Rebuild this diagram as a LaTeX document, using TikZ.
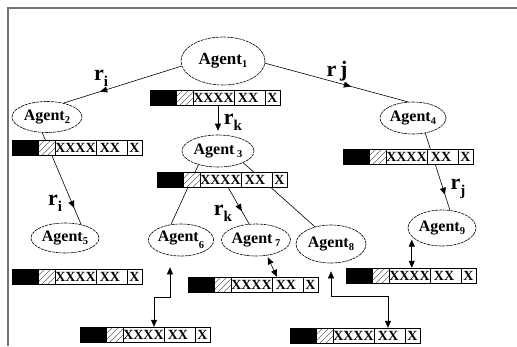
\documentclass[tikz,border=0pt]{standalone}
\usepackage{fontspec}
\setmainfont{Liberation Serif}
\usetikzlibrary{shapes.geometric,decorations.markings,arrows.meta,calc}
\pgfdeclarelayer{bg}
\pgfdeclarelayer{paper}
\pgfsetlayers{paper,bg,main}
\newcommand\agsub[2][-3pt]{\raisebox{#1}{\fontsize{10.5}{10.5}\selectfont #2}}
\newcommand\rsub[2][-6pt]{\raisebox{#1}{\fontsize{15}{15}\selectfont #2}}
\begin{document}
\begin{tikzpicture}[x=1pt,y=-1pt,
  agent/.style={ellipse, draw, dash pattern=on 3pt off 0.8pt, line width=0.6pt, inner sep=0pt,
    font=\fontsize{16}{16}\selectfont\bfseries},
  link/.style={line width=0.6pt},
  midarrow/.style={postaction={decorate}, decoration={markings,
    mark=at position #1 with {\arrow{Triangle[length=7pt,width=6pt]}}}},
  tipend/.style={-{Triangle[length=7pt,width=6pt]}},
  dbl/.style={{Triangle[length=7pt,width=6pt]}-{Triangle[length=7pt,width=6pt]}},
  rlab/.style={font=\fontsize{22}{22}\selectfont\bfseries, inner sep=0pt},
  cellx/.style={inner sep=0pt, font=\fontsize{14}{14}\selectfont\bfseries},
  membar/.pic={
    \fill[white] (0,0) rectangle (130,15);
    \fill[black] (0,0) rectangle (27,15);
    \begin{scope}
      \clip (27,0) rectangle (43,15);
      \foreach \d in {-9,-3,3,9} \draw[black!60, line width=0.4pt] (27+\d,15) -- (42+\d,0);
    \end{scope}
    \draw[line width=0.6pt] (0,0) rectangle (130,15);
    \draw[line width=0.6pt] (43,0) -- (43,15) (84,0) -- (84,15) (115,0) -- (115,15);
    \node[cellx] at (63.5,8) {XXXX};
    \node[cellx] at (98,8) {XX};
    \node[cellx] at (122.5,8) {X};
    \node[inner sep=0pt, minimum width=130pt, minimum height=15pt] (-box) at (65,7.5) {};
  }
]
\useasboundingbox (0,0) rectangle (517,346);
\begin{pgfonlayer}{paper}
\fill[white] (0,0) rectangle (517,346);
\end{pgfonlayer}
\draw[black!55, line width=1.2pt] (8,346) -- (8,8) -- (517,8);

% agents
\node[agent, minimum width=84pt, minimum height=48pt, font=\fontsize{17}{17}\selectfont\bfseries] (a1) at (223,61) {Agent\agsub{1}};
\node[agent, minimum width=70pt, minimum height=31pt] (a2) at (47,117) {Agent\agsub{2}};
\node[agent, minimum width=72pt, minimum height=32pt] (a3) at (218,151) {Agent\,\agsub{3}};
\node[agent, minimum width=66pt, minimum height=32pt] (a4) at (413,118) {Agent\agsub{4}};
\node[agent, minimum width=68pt, minimum height=30pt] (a5) at (65,238) {Agent\agsub{5}};
\node[agent, minimum width=64pt, minimum height=32pt] (a6) at (181,240) {Agent\agsub[-7pt]{6}};
\node[agent, minimum width=68pt, minimum height=32pt] (a7) at (256,240) {Agent\,\agsub{7}};
\node[agent, minimum width=70pt, minimum height=38pt] (a8) at (331,244) {Agent\agsub{8}};
\node[agent, minimum width=68pt, minimum height=36pt] (a9) at (442,228) {Agent\agsub{9}};

% bars
\pic (b1) at (150,90) {membar};
\pic (b2) at (12,140) {membar};
\pic (b3) at (157,172) {membar};
\pic (b4) at (343,149) {membar};
\pic (b5) at (12,269) {membar};
\pic (b6) at (80,327) {membar};
\pic (b7) at (188,277) {membar};
\pic (b8) at (290,328) {membar};
\pic (b9) at (346,268) {membar};

% labels
\node[rlab] (ri1) at (101,78) {r\rsub{i}};
\node[rlab] (rj1) at (337,71) {r\,j};
\node[rlab] (rk1) at (233,122) {r\rsub{k}};
\node[rlab] (rk2) at (223,213) {r\rsub{k}};
\node[rlab] (ri2) at (55,203) {r\rsub{i}};
\node[rlab] (rj2) at (458,189) {r\rsub{j}};

% connectors
\begin{pgfonlayer}{bg}
\draw[link, midarrow=0.69] (a1.187) -- (a2.40);
\draw[link, midarrow=0.6] (a1.357) -- (a4.107);
\draw[link, midarrow=0.82] (a2.253) -- (a5.40);
\draw[link, midarrow=0.8] (a4.309) -- (a9.66);
\draw[link] (a3.215) -- (a6.123);
\draw[link] (a3.335) -- (a8.133);
\draw[link, midarrow=0.65] ([xshift=6pt]b3-box.south) -- (a7.113);
\end{pgfonlayer}
\draw[link, tipend, shorten >=4pt] (b1-box.south -| a3.north) -- (a3.north);
\draw[link, dbl, shorten <=2pt] (a7.305) -- ([xshift=24pt]b7-box.north);
\draw[link, dbl, shorten <=3pt] (a9.196) -- (a9.196 |- b9-box.north);
\draw[link, dbl] ([yshift=-8pt]a8.south) -- ++(0,25) -| ([xshift=33pt]b8-box.north);
\draw[link, dbl] ([xshift=-11pt,yshift=-11pt]a6.south) -- ++(0,30) -| ([xshift=9pt]b6-box.north);
\end{tikzpicture}
\end{document}
